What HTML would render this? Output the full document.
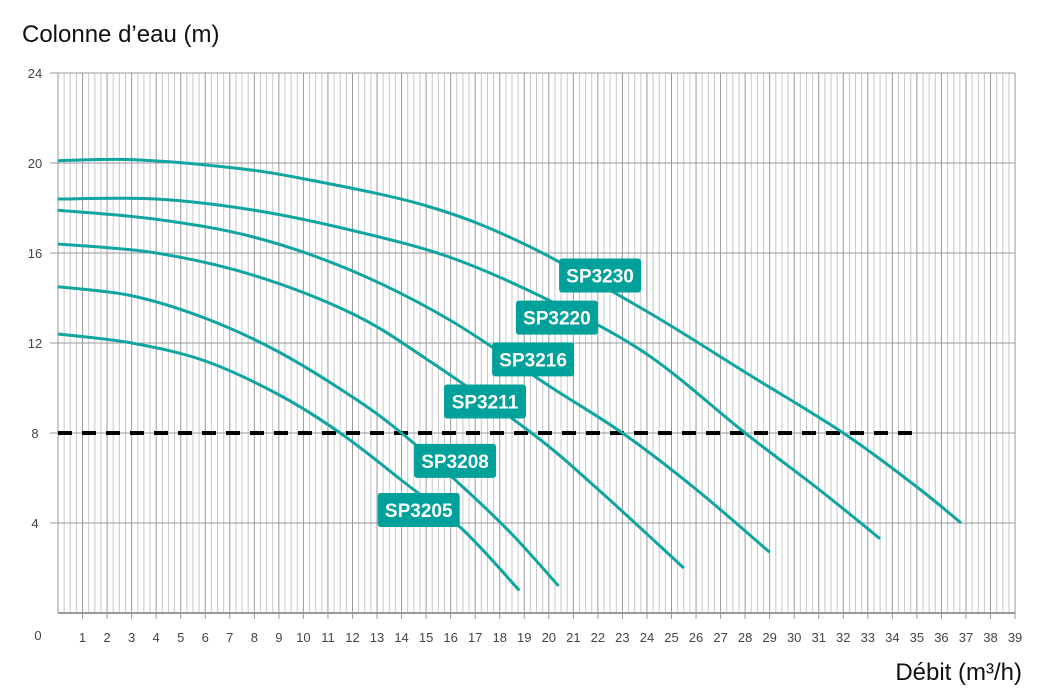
<!DOCTYPE html>
<html><head><meta charset="utf-8"><style>
body{margin:0;background:#fff;font-family:"Liberation Sans",sans-serif}
svg{display:block}
</style></head><body>
<svg width="1040" height="700" xmlns="http://www.w3.org/2000/svg">
<text x="22" y="42" font-size="24" fill="#111">Colonne d’eau (m)</text>
<text x="1022" y="680" font-size="24" fill="#111" text-anchor="end">Débit (m³/h)</text>
<g id="grid"></g><g id="curves"></g><g id="labels"></g>
</svg>
<script>
const xTicks=[1,2,3,4,5,6,7,8,9,10,11,12,13,14,15,16,17,18,19,20,21,22,23,24,25,26,27,28,29,30,31,32,33,34,35,36,37,38,39];
const yTicks=[4,8,12,16,20,24];
const refHead=8, refMaxFlow=35;
const names=["SP3230","SP3220","SP3216","SP3211","SP3208","SP3205"];
const flow3230=[0,3,7,10,15,19,24,28,32,35,36.8];
const head3230=[20.1,20.15,19.8,19.3,18.1,16.4,13.4,10.7,8,5.6,4];
const flow3220=[0,4,8,12,16,20,24,28,31,33.5];
const head3220=[18.4,18.4,17.9,17.0,15.8,13.9,11.5,8,5.5,3.3];
const flow3216=[0,4,8,12,16,20,23,26,29];
const head3216=[17.9,17.5,16.7,15.2,13,10.1,8,5.5,2.7];
const flow3211=[0,4,8,12,15,19.3,22,25.5];
const head3211=[16.4,16.0,15.0,13.3,11.3,8,5.5,2.0];
const flow3208=[0,3,6,9,12,14,16.5,18.5,20.4];
const head3208=[14.5,14.1,13.1,11.6,9.6,8,5.6,3.5,1.2];
const flow3205=[0,3,6,9,11.5,14,16.5,18.8];
const head3205=[12.4,12.0,11.2,9.7,8,5.9,3.7,1.0];
const labelX=[22.09,20.33,19.36,17.4,16.18,14.7];
const labelY=[15.0,13.13,11.27,9.4,6.76,4.58];
const X=v=>58+v*24.54, Y=v=>613-v*22.5;
const NS="http://www.w3.org/2000/svg";
function mk(t,a,p){const e=document.createElementNS(NS,t);for(const k in a)e.setAttribute(k,a[k]);p.appendChild(e);return e;}
const g=document.getElementById('grid');
for(let i=0;i<=39*4;i++){const v=i/4;const l=mk('line',{x1:X(v),x2:X(v),y1:Y(24),y2:Y(0),stroke:i%4?'#c8c8c8':'#999','stroke-width':1},g);
}
mk('line',{x1:X(0),x2:X(39),y1:Y(0),y2:Y(0),stroke:'#999','stroke-width':2},g);
yTicks.forEach(v=>{const l=mk('line',{x1:X(0)-8,x2:X(39),y1:Y(v),y2:Y(v),stroke:'#999','stroke-width':1},g);

const t=mk('text',{x:35,y:Y(v)+5,'font-size':13,fill:'#444','text-anchor':'middle'},g);t.textContent=v;
});
const z=mk('text',{x:38,y:640,'font-size':13,fill:'#444','text-anchor':'middle'},g);z.textContent='0';

xTicks.forEach(v=>{mk('line',{x1:X(v),x2:X(v),y1:Y(0),y2:Y(0)+6,stroke:'#999'},g);
const t=mk('text',{x:X(v),y:642,'font-size':13,fill:'#444','text-anchor':'middle'},g);t.textContent=v;
});
const c=document.getElementById('curves');
const dl=mk('line',{x1:X(0),x2:X(refMaxFlow),y1:Y(refHead),y2:Y(refHead),stroke:'#000','stroke-width':4,'stroke-dasharray':'14 10'},c);

const F=[flow3230,flow3220,flow3216,flow3211,flow3208,flow3205],H=[head3230,head3220,head3216,head3211,head3208,head3205];
function smooth(px){let d=`M${px[0][0]},${px[0][1]}`;for(let i=0;i<px.length-1;i++){const p0=px[i-1]||px[i],p1=px[i],p2=px[i+1],p3=px[i+2]||p2;
d+=` C${p1[0]+(p2[0]-p0[0])/6},${p1[1]+(p2[1]-p0[1])/6} ${p2[0]-(p3[0]-p1[0])/6},${p2[1]-(p3[1]-p1[1])/6} ${p2[0]},${p2[1]}`;}return d;}
const lb=document.getElementById('labels');
names.forEach((n,i)=>{const px=F[i].map((f,j)=>[X(f),Y(H[i][j])]);
const p=mk('path',{d:smooth(px),fill:'none',stroke:'#10a5a0','stroke-width':3},c);

const cx=X(labelX[i]),cy=Y(labelY[i]);
const gr=mk('g',{},lb);
mk('rect',{x:cx-41,y:cy-17,width:82,height:34,rx:3,fill:'#00a19a'},gr);
const t=mk('text',{x:cx,y:cy+7,'font-size':19,'font-weight':'bold',fill:'#fff','text-anchor':'middle'},gr);t.textContent=n;});
</script>
</body></html>
